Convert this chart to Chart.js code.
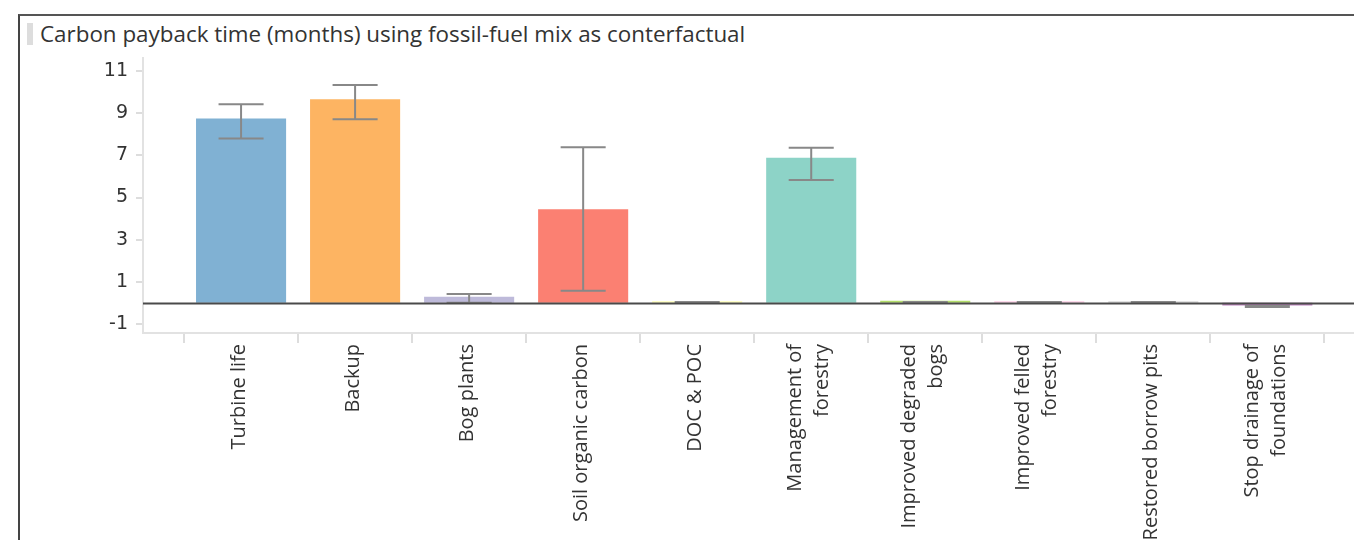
<!DOCTYPE html>
<html>
<head>
<meta charset="utf-8">
<script src="https://cdn.jsdelivr.net/npm/chart.js@4.4.1/dist/chart.umd.min.js"></script>
<style>
  body { margin: 0; background: #fff; overflow: hidden; }
  #wrap { position: relative; width: 1354px; height: 540px; }
  #panel { position: absolute; left: 18px; top: 14px; right: -10px; bottom: -10px;
           border-top: 2px solid #555; border-left: 2px solid #444; }
  #title { position: absolute; left: 27px; top: 23px; height: 22px; border-left: 6px solid #ddd;
           padding-left: 7px; font: 22.4px "Open Sans", sans-serif; line-height: 22px; color: #333;
           white-space: nowrap; }
  #chart { position: absolute; left: 0; top: 0; }
</style>
</head>
<body>
<div id="wrap">
  <div id="panel"></div>
  <div id="title">Carbon payback time (months) using fossil-fuel mix as conterfactual</div>
  <canvas id="chart" width="1354" height="540"></canvas>
</div>
<script>
const categories = [
  ['Turbine life'], ['Backup'], ['Bog plants'], ['Soil organic carbon'], ['DOC & POC'],
  ['Management of', 'forestry'], ['Improved degraded', 'bogs'], ['Improved felled', 'forestry'],
  ['Restored borrow pits'], ['Stop drainage of', 'foundations']
];
const payback = [8.75, 9.66, 0.29, 4.44, 0.08, 6.89, 0.10, 0.08, 0.08, -0.13];
const errLow  = [7.80, 8.71, 0.00, 0.58, 0.00, 5.83, 0.00, 0.00, 0.00, -0.20];
const errHigh = [9.43, 10.34, 0.42, 7.38, 0.04, 7.36, 0.04, 0.04, 0.04, -0.15];
const yTicks = [-1, 1, 3, 5, 7, 9, 11];
const barColors = ['#80b1d3', '#fdb462', '#bebada', '#fb8072', '#ffffb3',
                   '#8dd3c7', '#b3de69', '#fccde5', '#d9d9d9', '#bc80bd'];

// error bars, zero line and the rotated category labels
const extras = {
  id: 'extras',
  afterDatasetsDraw(chart) {
    const ctx = chart.ctx;
    const y = chart.scales.y;
    const area = chart.chartArea;
    const bars = chart.getDatasetMeta(0).data;
    ctx.save();
    ctx.strokeStyle = '#888';
    ctx.lineWidth = 2;
    bars.forEach((bar, i) => {
      const lo = y.getPixelForValue(errLow[i]);
      const hi = y.getPixelForValue(errHigh[i]);
      const half = bar.width / 4;
      ctx.beginPath();
      ctx.moveTo(bar.x, lo); ctx.lineTo(bar.x, hi);
      ctx.moveTo(bar.x - half, lo); ctx.lineTo(bar.x + half, lo);
      ctx.moveTo(bar.x - half, hi); ctx.lineTo(bar.x + half, hi);
      ctx.stroke();
    });
    const y0 = Math.round(y.getPixelForValue(0)) + 0.5;
    ctx.strokeStyle = '#4a4a4a';
    ctx.lineWidth = 2;
    ctx.beginPath();
    ctx.moveTo(area.left, y0); ctx.lineTo(area.right, y0);
    ctx.stroke();
    ctx.restore();
  },
  afterDraw(chart) {
    const ctx = chart.ctx;
    const x = chart.scales.x;
    const top = x.top + 11;
    const lh = 27;
    ctx.save();
    ctx.fillStyle = '#333';
    ctx.font = '20px "Open Sans", sans-serif';
    ctx.textAlign = 'right';
    ctx.textBaseline = 'middle';
    categories.forEach((lines, i) => {
      ctx.save();
      ctx.translate(x.getPixelForValue(i) - 2, top);
      ctx.rotate(-Math.PI / 2);
      lines.forEach((line, j) => {
        ctx.fillText(line, 0, (j - (lines.length - 1) / 2) * lh);
      });
      ctx.restore();
    });
    ctx.restore();
  }
};

new Chart(document.getElementById('chart'), {
  type: 'bar',
  data: {
    datasets: [{
      data: payback.map((v, i) => ({ x: i, y: v })),
      backgroundColor: barColors,
      borderWidth: 0,
      barPercentage: 0.79,
      categoryPercentage: 1
    }]
  },
  options: {
    responsive: false,
    animation: false,
    layout: { padding: { top: 58, left: 0, right: 0, bottom: 0 } },
    plugins: { legend: { display: false }, tooltip: { enabled: false } },
    scales: {
      x: {
        type: 'linear',
        offset: false,
        min: -0.86,
        max: 9.76,
        afterBuildTicks: (s) => { s.ticks = categories.map((c, i) => ({ value: i })); },
        afterFit: (s) => { s.height = 207; },
        ticks: { display: false },
        grid: { offset: true, drawOnChartArea: false, tickLength: 10, color: '#ddd', lineWidth: 2 },
        border: { color: '#e2e2e2', width: 2 }
      },
      y: {
        min: -1.43,
        max: 11.62,
        afterBuildTicks: (s) => { s.ticks = yTicks.map(v => ({ value: v })); },
        afterFit: (s) => { s.width = 143; },
        ticks: { color: '#333', padding: 8, font: { family: 'DejaVu Sans', size: 19 } },
        grid: { drawOnChartArea: false, tickLength: 7, color: '#ddd', lineWidth: 2 },
        border: { color: '#e2e2e2', width: 2 }
      }
    }
  },
  plugins: [extras]
});
</script>
</body>
</html>
